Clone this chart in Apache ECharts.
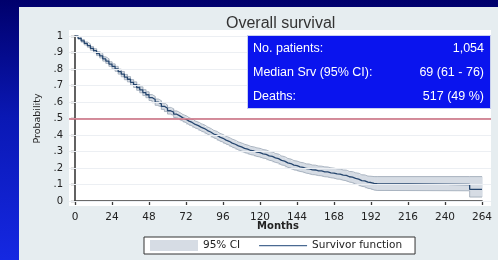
<!DOCTYPE html>
<html>
<head>
<meta charset="utf-8">
<script src="https://cdn.jsdelivr.net/npm/echarts@6/dist/echarts.min.js"></script>
<style>
  html, body { margin: 0; padding: 0; }
  #main {
    width: 498px;
    height: 260px;
    background:
      linear-gradient(#e6edf0, #e6edf0) 19px 7px / 479px 253px no-repeat,
      linear-gradient(to bottom, #00006c 0%, #0a18b4 45%, #1528e2 100%);
  }
</style>
</head>
<body>
<div id="main"></div>
<script>
// Kaplan-Meier estimate with 95% band
const months = [0, 2, 4, 6, 8, 10, 12, 14, 16, 18, 20, 22, 24, 26, 28, 30, 32, 34, 36, 38,
  40, 42, 44, 46, 48, 50, 52, 54, 56, 58, 60, 62, 64, 66, 68, 70, 72, 74, 76, 78,
  80, 82, 84, 86, 88, 90, 92, 94, 96, 98, 100, 102, 104, 106, 108, 110, 112, 114, 116, 118,
  120, 122, 124, 126, 128, 130, 132, 134, 136, 138, 140, 142, 144, 146, 148, 150, 152, 154, 156, 158,
  160, 162, 164, 166, 168, 170, 172, 174, 176, 178, 180, 182, 184, 186, 188, 190, 192, 194, 196, 256, 264];
const kmSurv = [1.000, 0.986, 0.971, 0.955, 0.942, 0.925, 0.911, 0.893, 0.880, 0.861, 0.848, 0.830, 0.816, 0.801, 0.784, 0.769, 0.751, 0.738, 0.719, 0.705,
  0.688, 0.674, 0.657, 0.644, 0.627, 0.615, 0.599, 0.589, 0.574, 0.562, 0.547, 0.539, 0.526, 0.516, 0.504, 0.496, 0.484, 0.476, 0.464, 0.457,
  0.446, 0.439, 0.427, 0.418, 0.406, 0.399, 0.387, 0.380, 0.369, 0.362, 0.351, 0.344, 0.334, 0.328, 0.319, 0.314, 0.306, 0.303, 0.296, 0.293,
  0.286, 0.283, 0.274, 0.270, 0.261, 0.257, 0.246, 0.242, 0.231, 0.227, 0.217, 0.214, 0.207, 0.204, 0.197, 0.195, 0.189, 0.188, 0.183, 0.182,
  0.177, 0.176, 0.171, 0.169, 0.164, 0.163, 0.157, 0.155, 0.147, 0.145, 0.137, 0.133, 0.124, 0.122, 0.114, 0.112, 0.107, 0.105, 0.100, 0.070, 0.070];
const ciLow = [1.000, 0.980, 0.963, 0.946, 0.932, 0.914, 0.899, 0.881, 0.867, 0.848, 0.834, 0.816, 0.801, 0.786, 0.769, 0.753, 0.735, 0.722, 0.702, 0.688,
  0.671, 0.656, 0.639, 0.626, 0.609, 0.596, 0.580, 0.570, 0.555, 0.542, 0.527, 0.519, 0.506, 0.496, 0.484, 0.475, 0.463, 0.455, 0.443, 0.436,
  0.424, 0.417, 0.405, 0.396, 0.384, 0.376, 0.364, 0.357, 0.346, 0.339, 0.327, 0.320, 0.310, 0.304, 0.294, 0.289, 0.281, 0.278, 0.270, 0.267,
  0.260, 0.257, 0.247, 0.243, 0.234, 0.230, 0.219, 0.215, 0.204, 0.200, 0.189, 0.186, 0.179, 0.176, 0.169, 0.166, 0.160, 0.159, 0.154, 0.153,
  0.147, 0.146, 0.141, 0.139, 0.133, 0.132, 0.126, 0.123, 0.115, 0.112, 0.103, 0.098, 0.089, 0.086, 0.077, 0.074, 0.067, 0.064, 0.062, 0.024, 0.024];
const ciHigh = [1.000, 0.992, 0.979, 0.964, 0.952, 0.936, 0.923, 0.905, 0.893, 0.874, 0.862, 0.844, 0.831, 0.816, 0.799, 0.785, 0.767, 0.754, 0.736, 0.722,
  0.705, 0.692, 0.675, 0.662, 0.645, 0.634, 0.618, 0.608, 0.593, 0.582, 0.567, 0.559, 0.546, 0.536, 0.524, 0.517, 0.505, 0.497, 0.485, 0.478,
  0.468, 0.461, 0.449, 0.440, 0.428, 0.422, 0.410, 0.403, 0.392, 0.385, 0.375, 0.368, 0.358, 0.352, 0.344, 0.339, 0.331, 0.328, 0.322, 0.319,
  0.312, 0.309, 0.301, 0.297, 0.288, 0.284, 0.273, 0.269, 0.258, 0.254, 0.245, 0.242, 0.235, 0.232, 0.225, 0.224, 0.218, 0.217, 0.212, 0.211,
  0.207, 0.206, 0.201, 0.199, 0.195, 0.194, 0.188, 0.187, 0.179, 0.178, 0.171, 0.168, 0.159, 0.158, 0.151, 0.150, 0.148, 0.148, 0.148, 0.148, 0.148];

const yTicks = [0, 0.1, 0.2, 0.3, 0.4, 0.5, 0.6, 0.7, 0.8, 0.9, 1];
const medianLine = 0.5;

const infoRows = [
  ["No. patients:", "1,054"],
  ["Median Srv (95% CI):", "69 (61 - 76)"],
  ["Deaths:", "517 (49 %)"],
];

const chartInstance = echarts.init(document.getElementById("main"));

const axisFont = "DejaVu Sans";
const textFont = "Liberation Sans";
const bandColor = "#d6dce4";
const bandEdge = "#a3aebb";
const kmColor = "#26466e";

function fmtProb(v) {
  if (v === 0) return "0";
  if (v === 1) return "1";
  return String(Math.round(v * 10) / 10).replace(/^0/, "");
}

// band pieces: one step interval each [from, to, low, high]
const bandData = [];
for (let i = 0; i < months.length - 1; i++) {
  bandData.push([months[i], months[i + 1], ciLow[i], ciHigh[i]]);
}

function renderBand(params, api) {
  const p1 = api.coord([api.value(0), api.value(3)]);
  const p2 = api.coord([api.value(1), api.value(2)]);
  return {
    type: "rect",
    shape: { x: p1[0], y: p1[1], width: p2[0] - p1[0] + 0.6, height: p2[1] - p1[1] },
    style: { fill: bandColor },
  };
}

const infoGraphics = [
  {
    type: "rect",
    left: 247,
    top: 35,
    shape: { width: 243, height: 73 },
    style: { fill: "#0a14ee", stroke: "#c8d0f0", lineWidth: 1 },
    z: 50,
  },
  {
    // x axis title, sits tight under the tick labels like the original
    type: "text",
    x: 278,
    y: 226,
    style: {
      text: "Months", fill: "#222", font: "bold 10px " + axisFont,
      textAlign: "center", textVerticalAlign: "middle",
    },
    z: 51,
  },
];
infoRows.forEach((row, i) => {
  const y = 49 + i * 24;
  infoGraphics.push({
    type: "text",
    x: 253,
    y: y,
    style: {
      text: row[0], fill: "#ffffff", font: "12.5px " + textFont,
      textAlign: "left", textVerticalAlign: "middle",
    },
    z: 51,
  });
  infoGraphics.push({
    type: "text",
    x: 484,
    y: y,
    style: {
      text: row[1], fill: "#ffffff", font: "12.5px " + textFont,
      textAlign: "right", textVerticalAlign: "middle",
    },
    z: 51,
  });
});

const option = {
  animation: false,
  title: {
    text: "Overall survival",
    left: 221,
    top: 11,
    textStyle: { fontFamily: textFont, fontSize: 16, fontWeight: "normal", color: "#333" },
  },
  legend: {
    left: 144,
    top: 237,
    padding: [3, 13, 3, 6],
    itemWidth: 48,
    itemHeight: 11,
    itemGap: 19,
    backgroundColor: "#ffffff",
    borderColor: "#333333",
    borderWidth: 1,
    borderRadius: 0,
    textStyle: { fontFamily: axisFont, fontSize: 10.5, color: "#222" },
    data: [
      { name: "95% CI", icon: "rect", itemStyle: { color: bandColor, borderWidth: 0 } },
      {
        name: "Survivor function",
        icon: "path://M0,0h0.01v0.01h-0.01z M0,5h48v1.2h-48z M0,11h0.01v0.01h-0.01z",
        itemStyle: { color: "#4a6a92", borderWidth: 0 },
      },
    ],
  },
  grid: [
    { left: 75, right: 16, top: 36, bottom: 59 },
    { left: 69, top: 30, width: 422, height: 176, show: true, backgroundColor: "#ffffff", borderWidth: 0 },
  ],
  xAxis: [
    {
      type: "value",
      gridIndex: 0,
      min: 0,
      max: 264,
      interval: 24,
      offset: 6,
      axisLine: { lineStyle: { color: "#3a3a3a", width: 1.6 } },
      axisTick: { show: true, length: 4, lineStyle: { color: "#3a3a3a", width: 1.3 } },
      axisLabel: { margin: 5, fontFamily: axisFont, fontSize: 10.5, color: "#222", showMinLabel: true, showMaxLabel: true },
      splitLine: { show: false },
    },
    { type: "value", gridIndex: 1, min: 0, max: 1, show: false },
  ],
  yAxis: [
    {
      type: "value",
      gridIndex: 0,
      min: 0,
      max: 1,
      interval: 0.1,
      offset: 6,
      name: "Probability",
      nameLocation: "middle",
      nameGap: 26,
      nameTextStyle: { fontFamily: axisFont, fontSize: 9.5, color: "#222" },
      axisLine: { show: true, lineStyle: { color: "#3a3a3a", width: 1.6 } },
      axisTick: { show: true, length: 4, lineStyle: { color: "#3a3a3a", width: 1.3 } },
      axisLabel: { margin: 6, fontFamily: axisFont, fontSize: 10, color: "#222", formatter: fmtProb },
      splitLine: { show: false },
    },
    { type: "value", gridIndex: 1, min: -0.0303, max: 1.0364, show: false },
  ],
  graphic: infoGraphics,
  series: [
    {
      // grid lines + median reference line across the white plot region
      type: "line",
      xAxisIndex: 1,
      yAxisIndex: 1,
      data: [[0, 0]],
      symbol: "none",
      lineStyle: { opacity: 0 },
      silent: true,
      z: 1,
      markLine: {
        silent: true,
        symbol: ["none", "none"],
        label: { show: false },
        data: yTicks
          .map((v) => ({ yAxis: v, lineStyle: { color: "#eceff3", width: 1, type: "solid" } }))
          .concat([{ yAxis: medianLine, lineStyle: { color: "#c9687b", width: 1.6, type: "solid" } }]),
      },
    },
    {
      name: "95% CI",
      type: "custom",
      renderItem: renderBand,
      itemStyle: { color: bandColor },
      encode: { x: [0, 1], y: [2, 3] },
      data: bandData,
      silent: true,
      z: 2,
    },
    {
      name: "ciLow",
      type: "line",
      step: "end",
      symbol: "none",
      data: months.map((m, i) => [m, ciLow[i]]),
      lineStyle: { color: bandEdge, width: 0.9 },
      silent: true,
      z: 3,
    },
    {
      name: "ciHigh",
      type: "line",
      step: "end",
      symbol: "none",
      data: months.map((m, i) => [m, ciHigh[i]]),
      lineStyle: { color: bandEdge, width: 0.9 },
      silent: true,
      z: 3,
    },
    {
      name: "Survivor function",
      type: "line",
      step: "end",
      symbol: "none",
      itemStyle: { color: kmColor },
      data: months.map((m, i) => [m, kmSurv[i]]),
      lineStyle: { color: kmColor, width: 1.3 },
      z: 4,
    },
  ],
};

chartInstance.setOption(option);
</script>
</body>
</html>
